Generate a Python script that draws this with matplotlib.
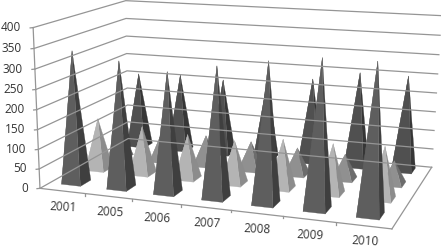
import numpy as np
import matplotlib
matplotlib.use("Agg")
import matplotlib.pyplot as plt
from matplotlib.patches import Polygon

years = ["2001", "2005", "2006", "2007", "2008", "2009", "2010"]
ticks = [0, 50, 100, 150, 200, 250, 300, 350, 400]

# rows from front to back
row1 = [335, 318, 300, 322, 342, 357, 357]
row2 = [135, 125, 115, 110, 125, 125, 130]
row3 = [75, 80, 80, 75, 70, 65, 60]
row4 = [205, 210, 205, 210, 225, 250, 250]
rows = [row1, row2, row3, row4]
colors = [("#5e5e5e", "#3f3f3f"), ("#b4b4b4", "#8c8c8c"),
          ("#909090", "#6c6c6c"), ("#505050", "#363636")]

# chart box corners (x, depth, value 0-1) and where they land on the picture
box = [(0, 0, 0), (1, 0, 0), (1, 1, 0), (0, 1, 0), (0, 0, 1), (1, 1, 1), (0, 1, 1)]
pix = [(41, 187), (392, 230), (432, 166), (127, 140), (32, 28), (441, 16), (127, 0)]

# fit the perspective camera
A, b = [], []
for (X, Y, Z), (u, v) in zip(box, pix):
    A.append([X, Y, Z, 1, 0, 0, 0, 0, -u*X, -u*Y, -u*Z])
    A.append([0, 0, 0, 0, X, Y, Z, 1, -v*X, -v*Y, -v*Z])
    b += [u, v]
P = np.append(np.linalg.lstsq(np.array(A, float), np.array(b, float), rcond=None)[0], 1).reshape(3, 4)


def proj(x, y, v):
    q = P @ np.array([x, y, v/400, 1])
    return q[0]/q[2], q[1]/q[2]


fig = plt.figure(figsize=(4.41, 2.48), dpi=100)
ax = fig.add_axes([0, 0, 1, 1])
ax.set_xlim(0, 441)
ax.set_ylim(248, 0)
ax.axis("off")
plt.rcParams["font.family"] = "Open Sans"

# walls
for t in ticks:
    a, b1, c = proj(0, 0, t), proj(0, 1, t), proj(1, 1, t)
    ax.plot([a[0], b1[0], c[0]], [a[1], b1[1], c[1]], color="#959595", lw=0.9)
    ax.plot([a[0], a[0]-3], [a[1], a[1]+0.3], color="#959595", lw=0.9)
    ax.text(a[0]-12, a[1], str(t), ha="right", va="center", fontsize=8.5, color="#333333")
p0, p1 = proj(0, 0, 0), proj(0, 0, 400)
ax.plot([p0[0], p1[0]], [p0[1], p1[1]], color="#959595", lw=0.9)

# floor edges
for e in [((0, 0), (1, 0)), ((1, 0), (1, 1))]:
    s, f = proj(*e[0], 0), proj(*e[1], 0)
    ax.plot([s[0], f[0]], [s[1], f[1]], color="#959595", lw=0.9)
for i in range(1, 7):
    s = proj(i/7, 0, 0)
    ax.plot([s[0], s[0]], [s[1], s[1]+2], color="#959595", lw=0.9)

# pyramids, back row first
hx, hy = 0.03, 0.055
for r in range(3, -1, -1):
    for i, val in enumerate(rows[r]):
        cx, cy = (i+0.48)/7, (r+0.6)/4
        tip = proj(cx, cy, val)
        fl, fr = proj(cx-hx, cy-hy, 0), proj(cx+hx, cy-hy, 0)
        bl, br = proj(cx-hx, cy+hy, 0), proj(cx+hx, cy+hy, 0)
        ax.add_patch(Polygon([fr, br, tip], color=colors[r][1], lw=0.2))
        ax.add_patch(Polygon([fl, bl, tip], color=colors[r][0], lw=0.2))
        ax.add_patch(Polygon([fl, fr, tip], color=colors[r][0], lw=0.2))

for i, y in enumerate(years):
    s = proj((i+0.5)/7, 0, 0)
    ax.text(s[0]+1, s[1]+16, y, ha="center", va="center", rotation=-3, fontsize=8.5, color="#333333")

fig.savefig("out.png", dpi=100)
